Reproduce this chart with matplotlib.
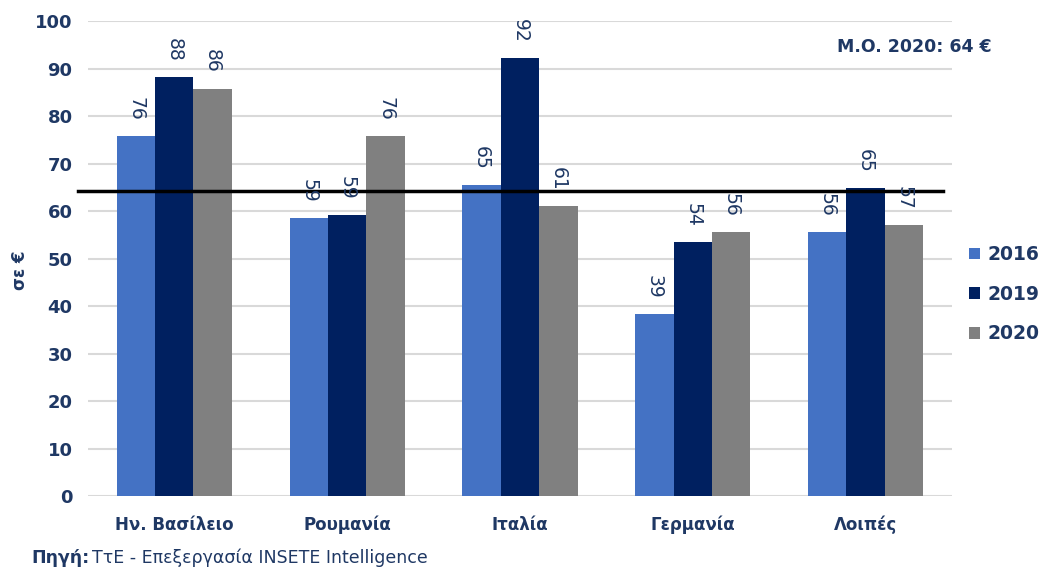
import matplotlib
matplotlib.use("Agg")
import matplotlib.pyplot as plt
import numpy as np

categories = ["Ην. Βασίλειο", "Ρουμανία", "Ιταλία", "Γερμανία", "Λοιπές"]
series_names = ["2016", "2019", "2020"]
v2016 = [75.9, 58.6, 65.4, 38.4, 55.7]
v2019 = [88.3, 59.2, 92.3, 53.5, 64.8]
v2020 = [85.8, 75.9, 61.1, 55.7, 57.0]
labels2016 = ["76", "59", "65", "39", "56"]
labels2019 = ["88", "59", "92", "54", "65"]
labels2020 = ["86", "76", "61", "56", "57"]
mean_2020 = 64.3
mean_text = "M.O. 2020: 64 €"
yticks = [0, 10, 20, 30, 40, 50, 60, 70, 80, 90, 100]

navy = "#1F3864"
colors = ["#4472C4", "#002060", "#808080"]

plt.rcParams['font.family'] = ['DejaVu Sans']
fig = plt.figure(figsize=(10.59, 5.69), dpi=100)
ax = fig.add_axes([0.083, 0.128, 0.816, 0.835])

x = np.arange(len(categories))
w = 0.222
series = [v2016, v2019, v2020]
labs = [labels2016, labels2019, labels2020]
for i, (vals, lab) in enumerate(zip(series, labs)):
    pos = x + (i - 1) * w
    bars = ax.bar(pos, vals, width=w, color=colors[i], label=series_names[i], zorder=3)
    for b, t in zip(bars, lab):
        ax.annotate(t, (b.get_x() + b.get_width() / 2, b.get_height()),
                    xytext=(0, 11), textcoords="offset points",
                    ha="center", va="bottom", rotation=270,
                    fontsize=13.5, color=navy, zorder=5)

ax.set_xlim(-0.5, 4.5)
ax.set_ylim(0, 100)
ax.set_yticks(yticks)
ax.set_yticklabels([str(t) for t in yticks], fontsize=13, fontweight="bold", color=navy)
ax.set_xticks(x)
ax.set_xticklabels(categories, fontsize=12, fontweight="bold", color=navy)
ax.tick_params(axis="y", length=0, pad=11)
ax.tick_params(axis="x", length=0, pad=14)
ax.grid(axis="y", color="#D9D9D9", linewidth=1.5, zorder=0)
for s in ax.spines.values():
    s.set_visible(False)

ax.plot([-0.56, 4.45], [mean_2020, mean_2020], color="black", linewidth=2.5,
        clip_on=False, zorder=4)
ax.text(4.28, 94.5, mean_text, ha="center", va="center", fontsize=12.5,
        fontweight="bold", color=navy)

fig.text(0.019, 0.525, "σε €", rotation=90, ha="center", va="center",
         fontsize=12, fontweight="bold", color=navy)

leg = ax.legend(loc="center left", bbox_to_anchor=(1.0, 0.425), frameon=False,
                handlelength=0.6, handleheight=0.6, handletextpad=0.4,
                labelspacing=1.1, prop={"size": 13.5, "weight": "bold"})
for t in leg.get_texts():
    t.set_color(navy)

fig.text(0.030, 0.020, "Πηγή:", fontsize=12.5, fontweight="bold", color=navy,
         ha="left", va="center")
fig.text(0.087, 0.020, "ΤτΕ - Επεξεργασία INSETE Intelligence", fontsize=12.5,
         color=navy, ha="left", va="center")

fig.savefig("out.png", dpi=100, facecolor="white")
